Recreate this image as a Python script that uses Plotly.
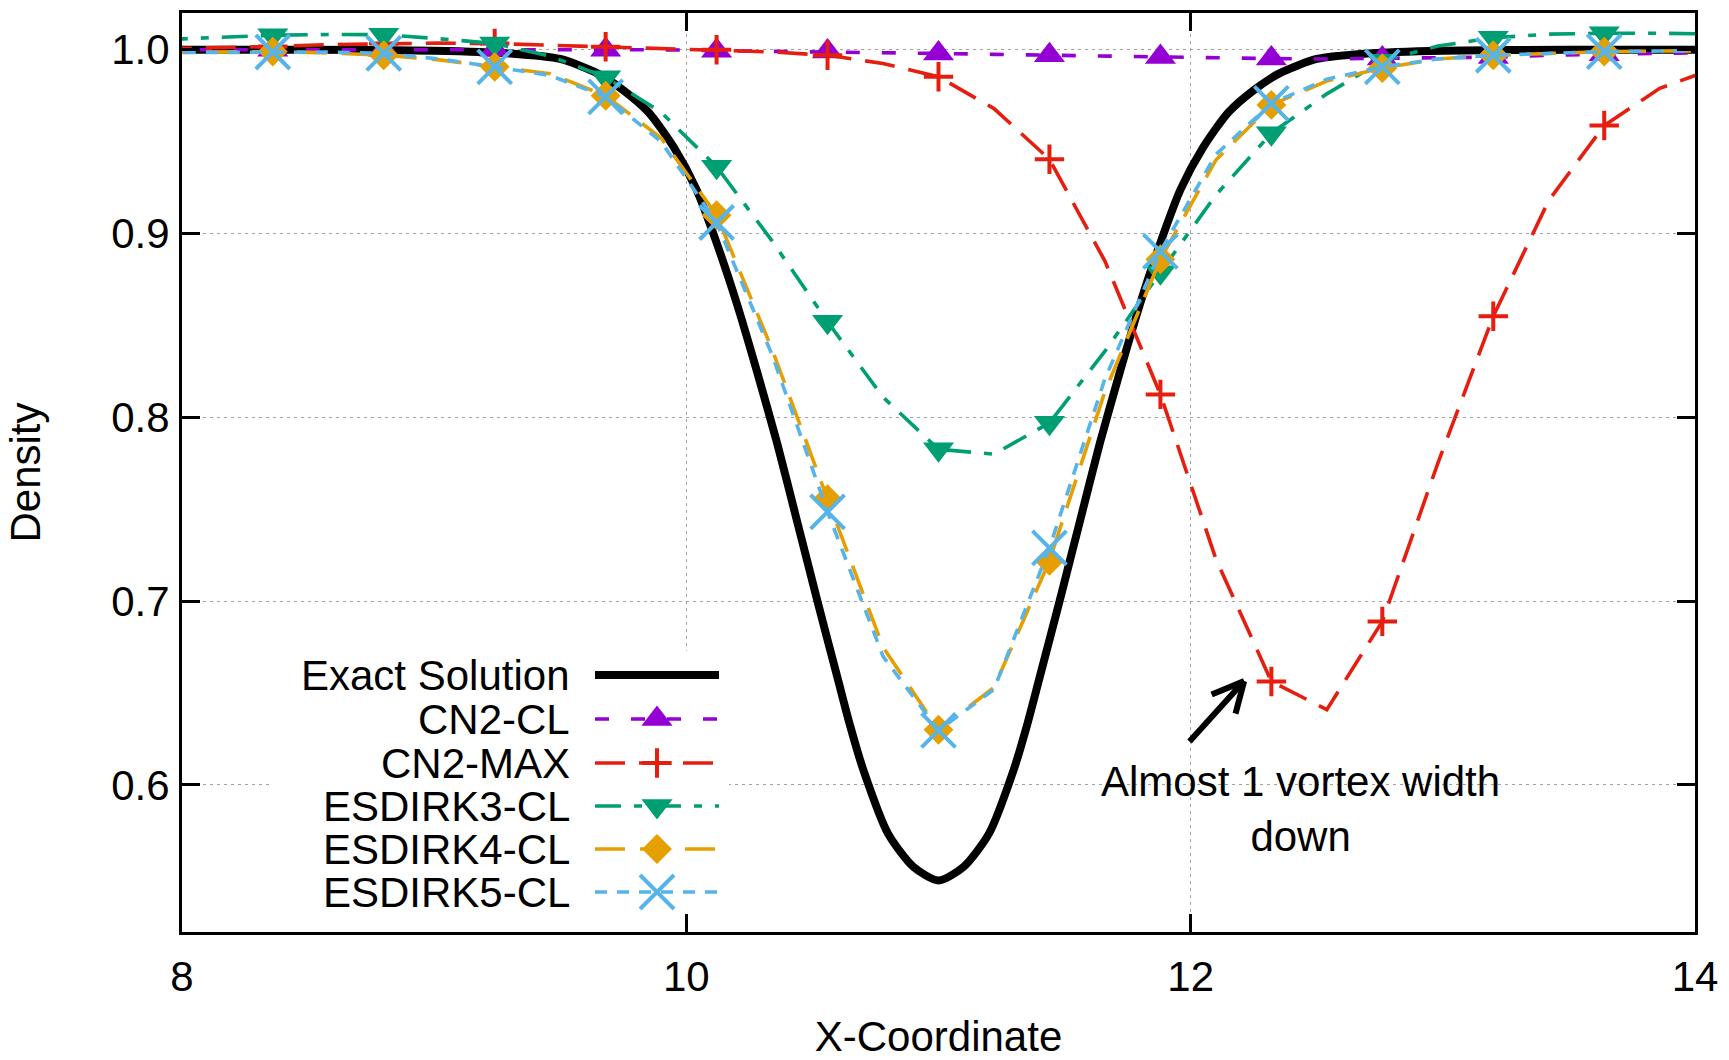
import plotly.graph_objects as go

# ---------------- data ----------------
x_pts = [7.92, 8.14, 8.36, 8.58, 8.80, 9.02, 9.24, 9.46, 9.68, 9.90,
         10.12, 10.34, 10.56, 10.78, 11.00, 11.22, 11.44, 11.66, 11.88, 12.10,
         12.32, 12.54, 12.76, 12.98, 13.20, 13.42, 13.64, 13.86, 14.08]

cn2_cl = [1.000, 1.000, 1.000, 1.000, 1.000, 1.000, 1.000, 1.000, 1.000, 1.000,
          0.9995, 0.9992, 0.999, 0.9985, 0.998, 0.9975, 0.997, 0.9965, 0.996, 0.9955,
          0.9952, 0.995, 0.9952, 0.9955, 0.996, 0.997, 0.9975, 0.998, 0.9985]

cn2_max = [1.0005, 1.001, 1.0018, 1.0028, 1.0034, 1.0036, 1.0034, 1.0025, 1.0016, 1.0007,
           1.000, 0.9988, 0.997, 0.9925, 0.9853, 0.968, 0.9404, 0.885, 0.8125, 0.723,
           0.6563, 0.641, 0.689, 0.775, 0.855, 0.918, 0.9588, 0.979, 0.990]

esdirk3 = [1.0055, 1.0068, 1.0079, 1.0083, 1.0082, 1.006, 1.0034, 0.9965, 0.985, 0.966,
           0.9364, 0.896, 0.852, 0.811, 0.7826, 0.780, 0.797, 0.836, 0.879, 0.921,
           0.9546, 0.976, 0.994, 1.002, 1.0065, 1.0085, 1.009, 1.009, 1.0085]

esdirk4 = [0.9985, 0.9987, 0.999, 0.9983, 0.997, 0.9945, 0.9907, 0.987, 0.975, 0.952,
           0.910, 0.837, 0.7555, 0.675, 0.630, 0.653, 0.722, 0.814, 0.886, 0.940,
           0.970, 0.983, 0.990, 0.995, 0.997, 0.998, 0.999, 0.9993, 0.9995]

esdirk5 = [0.9985, 0.9987, 0.9988, 0.9987, 0.998, 0.995, 0.9907, 0.986, 0.9744, 0.950,
           0.906, 0.834, 0.7486, 0.670, 0.6297, 0.652, 0.729, 0.821, 0.8903, 0.943,
           0.9708, 0.984, 0.9907, 0.995, 0.997, 0.998, 0.999, 0.9993, 0.9995]

exact_x = [7.90, 8.50, 9.00, 9.30, 9.50, 9.65, 9.75, 9.85, 9.95, 10.04,
           10.12, 10.20, 10.28, 10.36, 10.44, 10.52, 10.60, 10.65, 10.70, 10.80,
           10.90, 11.00, 11.10, 11.20, 11.30, 11.35, 11.40, 11.48, 11.56, 11.64,
           11.72, 11.80, 11.88, 11.96, 12.05, 12.15, 12.25, 12.35, 12.50, 12.70,
           13.00, 13.50, 14.10]
exact_y = [1.0, 1.0, 0.9995, 0.998, 0.995, 0.987, 0.978, 0.966, 0.947, 0.924,
           0.895, 0.862, 0.825, 0.786, 0.743, 0.700, 0.658, 0.632, 0.609, 0.5735,
           0.5555, 0.548, 0.5555, 0.5735, 0.609, 0.632, 0.658, 0.700, 0.743, 0.786,
           0.825, 0.862, 0.895, 0.924, 0.947, 0.966, 0.978, 0.987, 0.995, 0.998,
           0.9995, 1.0, 1.0]

x_ticks = [8, 10, 12, 14]
y_ticks = [0.6, 0.7, 0.8, 0.9, 1.0]
y_tick_text = ["0.6", "0.7", "0.8", "0.9", "1.0"]

legend_names = ["Exact Solution", "CN2-CL", "CN2-MAX", "ESDIRK3-CL", "ESDIRK4-CL", "ESDIRK5-CL"]
annotation_text = "Almost 1 vortex width<br>down"

# ---------------- styles ----------------
FONT = "Liberation Sans, Arial, Helvetica, sans-serif"
FS = 42
series = [
    # name, values, color, dash, symbol, marker size, marker line width
    ("CN2-CL", cn2_cl, "#9400d3", "14px,22px", "triangle-up", 27, 0),
    ("CN2-MAX", cn2_max, "#e51e10", "30px,14px", "cross-thin", 21, 4),
    ("ESDIRK3-CL", esdirk3, "#009e73", "26px,13px,8px,13px", "triangle-down", 27, 0),
    ("ESDIRK4-CL", esdirk4, "#e69f00", "30px,15px", "diamond", 23, 0),
    ("ESDIRK5-CL", esdirk5, "#56b4e9", "12px,10px", "x-thin", 34, 4),
]

fig = go.Figure()

# exact solution
fig.add_trace(go.Scatter(x=exact_x, y=exact_y, mode="lines",
                         line=dict(color="black", width=8, shape="spline", smoothing=0.7),
                         showlegend=False, hoverinfo="skip"))

for name, vals, col, dash, sym, msz, mlw in series:
    fig.add_trace(go.Scatter(x=x_pts, y=vals, mode="lines",
                             line=dict(color=col, width=3.6, dash=dash),
                             showlegend=False, hoverinfo="skip"))
    mk = dict(symbol=sym, size=msz, color=col)
    mk["line"] = dict(color=col, width=mlw) if mlw else dict(width=0)
    fig.add_trace(go.Scatter(x=x_pts[::2], y=vals[::2], mode="markers",
                             marker=mk, showlegend=False, hoverinfo="skip",
                             cliponaxis=True))

# ---------------- manual gnuplot-style legend (overlay pixel axes) ----------------
LEFT, RIGHT, TOP, BOTTOM = 182, 1695, 13, 932
row_y = [675, 719, 763, 806, 849, 892]
text_right = 572
samp_x0, samp_x1, samp_mid = 595, 719, 657

fig.add_trace(go.Scatter(x=[samp_x0, samp_x1], y=[row_y[0], row_y[0]], mode="lines",
                         line=dict(color="black", width=8), xaxis="x2", yaxis="y2",
                         showlegend=False, hoverinfo="skip"))
for (name, vals, col, dash, sym, msz, mlw), ry in zip(series, row_y[1:]):
    fig.add_trace(go.Scatter(x=[samp_x0, samp_x1], y=[ry, ry], mode="lines",
                             line=dict(color=col, width=3.6, dash=dash), xaxis="x2", yaxis="y2",
                             showlegend=False, hoverinfo="skip"))
    mk = dict(symbol=sym, size=msz, color=col)
    mk["line"] = dict(color=col, width=mlw) if mlw else dict(width=0)
    fig.add_trace(go.Scatter(x=[samp_mid], y=[ry], mode="markers", marker=mk,
                             xaxis="x2", yaxis="y2", showlegend=False, hoverinfo="skip"))

annotations = []
for name, ry in zip(legend_names, row_y):
    annotations.append(dict(x=text_right, y=ry, xref="x2", yref="y2", text=name,
                            showarrow=False, xanchor="right", yanchor="middle",
                            font=dict(family=FONT, size=FS, color="black")))

# text annotation + arrow
annotations.append(dict(x=12.434, y=0.587, xref="x", yref="y", text=annotation_text,
                        showarrow=False, xanchor="center", yanchor="middle", align="center",
                        font=dict(family=FONT, size=FS, color="black")))
tip_x, tip_y = 12.212, 0.6565
for ax_, ay_ in [(-56, 62), (-34, 14), (-9, 34)]:
    annotations.append(dict(x=tip_x, y=tip_y, xref="x", yref="y", ax=ax_, ay=ay_,
                            axref="pixel", ayref="pixel", text="", showarrow=True,
                            arrowhead=0, arrowwidth=6, arrowcolor="black",
                            standoff=0, startstandoff=0))

shapes = [dict(type="rect", xref="x", yref="y", x0=8.35, x1=10.17, y0=0.5205, y1=0.673,
               fillcolor="white", line=dict(width=0), layer="between")]

axis_common = dict(showline=True, linecolor="black", linewidth=3, mirror="ticks",
                   ticks="inside", ticklen=18, tickwidth=3, tickcolor="black",
                   showgrid=True, gridcolor="#a0a0a0", gridwidth=1, griddash="3px,4px",
                   zeroline=False, automargin=False,
                   tickfont=dict(family=FONT, size=FS, color="black"))

fig.update_layout(
    width=1729, height=1060,
    margin=dict(l=LEFT, r=1729 - RIGHT, t=TOP, b=1060 - BOTTOM, autoexpand=False),
    paper_bgcolor="white", plot_bgcolor="white",
    font=dict(family=FONT, size=FS, color="black"),
    xaxis=dict(range=[8, 14], tickvals=x_ticks, ticktext=[str(v) for v in x_ticks],
               ticklabelstandoff=6,
               title=dict(text="X-Coordinate", font=dict(family=FONT, size=FS), standoff=30),
               **axis_common),
    yaxis=dict(range=[0.52, 1.02], tickvals=y_ticks, ticktext=y_tick_text,
               ticklabelstandoff=1,
               title=dict(text="Density", font=dict(family=FONT, size=FS), standoff=58),
               **axis_common),
    xaxis2=dict(overlaying="x", range=[LEFT, RIGHT], visible=False, fixedrange=True),
    yaxis2=dict(overlaying="y", range=[BOTTOM, TOP], visible=False, fixedrange=True),
    annotations=annotations,
    shapes=shapes,
)

fig.write_html("out.html")
